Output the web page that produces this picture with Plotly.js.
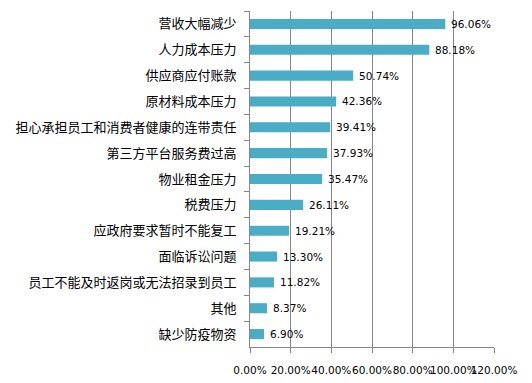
<!DOCTYPE html>
<html><head><meta charset="utf-8">
<script src="https://cdn.plot.ly/plotly-3.0.1.min.js"></script>
<style>html,body{margin:0;padding:0;background:#fff;}#chart{width:532px;height:383px;}</style>
</head><body><div id="chart"></div>
<script>
var categories = ["营收大幅减少","人力成本压力","供应商应付账款","原材料成本压力","担心承担员工和消费者健康的连带责任","第三方平台服务费过高","物业租金压力","税费压力","应政府要求暂时不能复工","面临诉讼问题","员工不能及时返岗或无法招录到员工","其他","缺少防疫物资"];
var values = [0.9606,0.8818,0.5074,0.4236,0.3941,0.3793,0.3547,0.2611,0.1921,0.1330,0.1182,0.0837,0.0690];
var labels = ["96.06%","88.18%","50.74%","42.36%","39.41%","37.93%","35.47%","26.11%","19.21%","13.30%","11.82%","8.37%","6.90%"];

var annotations = categories.map(function(c,i){
  return {x: values[i], y: c, text: labels[i], xanchor:'left', yanchor:'middle', xshift:4, showarrow:false,
          font:{family:'DejaVu Sans', size:10.5, color:'#000'}};
});

Plotly.newPlot('chart', [{
  type:'bar', orientation:'h', x: values, y: categories,
  marker:{color:'#4BACC6'}, hoverinfo:'none'
}], {
  width:532, height:383,
  margin:{l:250, r:38, t:11, b:36},
  paper_bgcolor:'#fff', plot_bgcolor:'#fff',
  showlegend:false, bargap:0.61,
  xaxis:{range:[0,1.2], dtick:0.2, tick0:0, tickformat:'.2%', tickangle:0, showgrid:true, gridcolor:'#868686', gridwidth:1,
         showline:true, linecolor:'#868686', ticks:'outside', ticklen:5, tickcolor:'#868686', zeroline:false,
         ticklabelstandoff:8, tickfont:{family:'DejaVu Sans', size:10.5, color:'#000'}, fixedrange:true},
  yaxis:{type:'category', autorange:'reversed', showline:true, linecolor:'#868686', ticks:'outside', ticklen:5,
         tickcolor:'#868686', tickson:'boundaries', showgrid:false, ticklabelstandoff:10,
         tickfont:{family:'Noto Sans CJK SC', size:13, color:'#000'}, fixedrange:true},
  annotations: annotations
}, {displayModeBar:false, staticPlot:true});
</script></body></html>
